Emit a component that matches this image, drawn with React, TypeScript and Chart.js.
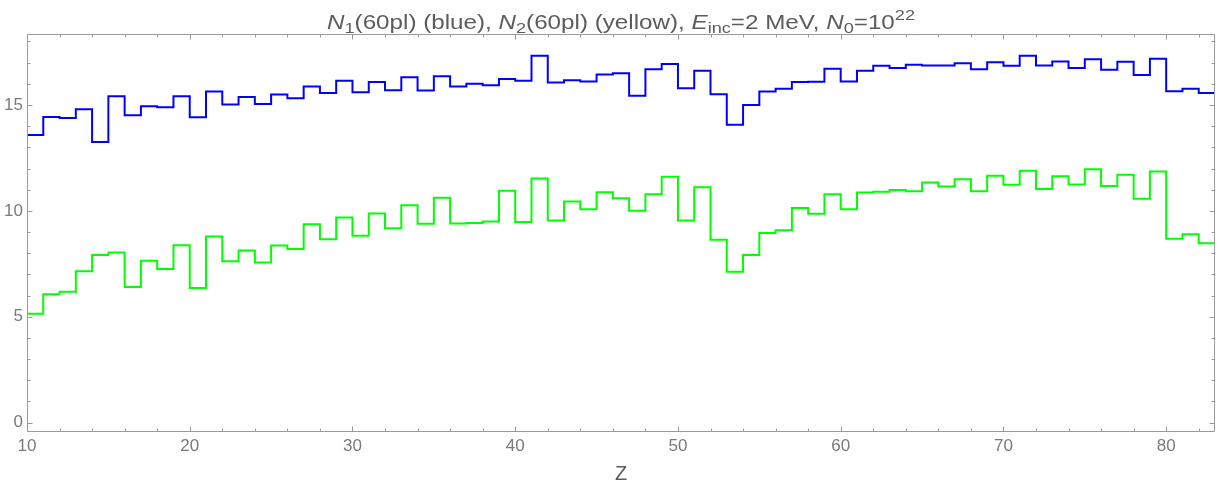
import React, { useEffect, useRef } from "react";
import { Chart, registerables } from "chart.js";

Chart.register(...registerables);

const zValues = [
  10, 11, 12, 13, 14, 15, 16, 17, 18, 19,
  20, 21, 22, 23, 24, 25, 26, 27, 28, 29,
  30, 31, 32, 33, 34, 35, 36, 37, 38, 39,
  40, 41, 42, 43, 44, 45, 46, 47, 48, 49,
  50, 51, 52, 53, 54, 55, 56, 57, 58, 59,
  60, 61, 62, 63, 64, 65, 66, 67, 68, 69,
  70, 71, 72, 73, 74, 75, 76, 77, 78, 79,
  80, 81, 82,
];

const n1Blue = [
  13.58, 14.43, 14.39, 14.8, 13.25, 15.41, 14.51, 14.94, 14.89, 15.41,
  14.42, 15.63, 15.02, 15.38, 15.04, 15.49, 15.32, 15.87, 15.56, 16.14,
  15.6, 16.08, 15.7, 16.31, 15.68, 16.36, 15.87, 16.0, 15.93, 16.22,
  16.14, 17.32, 16.06, 16.17, 16.11, 16.44, 16.5, 15.44, 16.69, 16.93,
  15.79, 16.61, 15.51, 14.06, 15.0, 15.63, 15.76, 16.08, 16.1, 16.71,
  16.11, 16.61, 16.85, 16.75, 16.9, 16.86, 16.86, 16.97, 16.69, 17.02,
  16.85, 17.32, 16.86, 17.05, 16.74, 17.16, 16.66, 17.04, 16.42, 17.18,
  15.65, 15.77, 15.56,
];

const n2Green = [
  5.14, 6.06, 6.18, 7.15, 7.92, 8.03, 6.4, 7.64, 7.26, 8.38,
  6.36, 8.79, 7.62, 8.13, 7.56, 8.36, 8.2, 9.37, 8.66, 9.69,
  8.82, 9.88, 9.18, 10.27, 9.39, 10.62, 9.4, 9.43, 9.5, 10.95,
  9.47, 11.53, 9.54, 10.44, 10.08, 10.88, 10.59, 10.0, 10.78, 11.61,
  9.54, 11.11, 8.64, 7.13, 7.92, 8.96, 9.09, 10.13, 9.86, 10.78,
  10.08, 10.87, 10.9, 10.99, 10.93, 11.34, 11.15, 11.49, 10.93, 11.66,
  11.23, 11.89, 11.03, 11.63, 11.25, 11.97, 11.17, 11.7, 10.57, 11.86,
  8.68, 8.9, 8.47,
];

const xTickLabels = [10, 20, 30, 40, 50, 60, 70, 80];
const yTickLabels = [0, 5, 10, 15];
const xMinorTicks = [12, 14, 16, 18, 22, 24, 26, 28, 32, 34, 36, 38, 42, 44, 46, 48, 52, 54, 56, 58, 62, 64, 66, 68, 72, 74, 76, 78, 82];
const yMinorTicks = [1, 2, 3, 4, 6, 7, 8, 9, 11, 12, 13, 14, 16, 17, 18];

const X_MIN = 10;
const X_MAX = 83;
const Y_MIN = -0.44;
const Y_MAX = 18.35;

type Seg = { t: string; it?: boolean; pos?: "sub" | "sup" };
const titleSegs: Seg[] = [
  { t: "N", it: true }, { t: "1", pos: "sub" }, { t: "(60pl) (blue), " },
  { t: "N", it: true }, { t: "2", pos: "sub" }, { t: "(60pl) (yellow), " },
  { t: "E", it: true }, { t: "inc", pos: "sub" }, { t: "=2 MeV, " },
  { t: "N", it: true }, { t: "0", pos: "sub" }, { t: "=10" }, { t: "22", pos: "sup" },
];
const xAxisTitle = "Z";

const FONT = '"Liberation Sans", Arial, sans-serif';
const TICK_COLOR = "#7a7a7a";
const FRAME_COLOR = "#9a9a9a";
const TITLE_COLOR = "#5c5c5c";

function stepData(values: number[]) {
  const pts = zValues.map((z, i) => ({ x: z, y: values[i] }));
  pts.push({ x: zValues[zValues.length - 1] + 1, y: values[values.length - 1] });
  return pts;
}

const decorPlugin = {
  id: "decor",
  afterDraw(chart: any) {
    const { ctx, chartArea: a, scales } = chart;
    const xs = scales.x;
    const ys = scales.y;
    ctx.save();
    // frame
    ctx.strokeStyle = FRAME_COLOR;
    ctx.lineWidth = 1;
    const L = Math.round(a.left) + 0.5;
    const R = Math.round(a.right) - 0.5;
    const T = Math.round(a.top) + 0.5;
    const B = Math.round(a.bottom) - 0.5;
    ctx.beginPath();
    ctx.rect(L, T, R - L, B - T);
    ctx.stroke();
    // ticks
    const xt = (v: number, len: number) => {
      const px = Math.round(xs.getPixelForValue(v)) + 0.5;
      ctx.moveTo(px, B); ctx.lineTo(px, B - len);
      ctx.moveTo(px, T); ctx.lineTo(px, T + len);
    };
    const yt = (v: number, len: number) => {
      const py = Math.round(ys.getPixelForValue(v)) + 0.5;
      ctx.moveTo(L, py); ctx.lineTo(L + len, py);
      ctx.moveTo(R, py); ctx.lineTo(R - len, py);
    };
    ctx.beginPath();
    xTickLabels.forEach((v) => xt(v, 5));
    xMinorTicks.forEach((v) => xt(v, 3));
    yTickLabels.forEach((v) => yt(v, 5));
    yMinorTicks.forEach((v) => yt(v, 3));
    ctx.stroke();

    // title
    const main = 20;
    const small = 15;
    const fontOf = (s: Seg) =>
      `${s.it ? "italic " : ""}${s.pos ? small : main}px ${FONT}`;
    let W = 0;
    titleSegs.forEach((s) => {
      ctx.font = fontOf(s);
      W += ctx.measureText(s.t).width;
    });
    const targetW = 588;
    const sx = targetW / W;
    const cx = (a.left + a.right) / 2;
    ctx.fillStyle = TITLE_COLOR;
    ctx.textBaseline = "alphabetic";
    ctx.textAlign = "left";
    ctx.save();
    ctx.translate(cx - targetW / 2, 29);
    ctx.scale(sx, 1);
    let x = 0;
    titleSegs.forEach((s) => {
      ctx.font = fontOf(s);
      const dy = s.pos === "sub" ? 4 : s.pos === "sup" ? -9 : 0;
      ctx.fillText(s.t, x, dy);
      x += ctx.measureText(s.t).width;
    });
    ctx.restore();

    // x-axis title
    ctx.font = `20px ${FONT}`;
    ctx.fillStyle = "#5a5a5a";
    ctx.textAlign = "center";
    ctx.textBaseline = "alphabetic";
    ctx.fillText(xAxisTitle, cx, 480);
    ctx.restore();
  },
};

export default function App() {
  const ref = useRef<HTMLCanvasElement | null>(null);
  useEffect(() => {
    document.body.style.margin = "0";
    const canvas = ref.current;
    if (!canvas) return;
    const chart = new Chart(canvas, {
      type: "line",
      data: {
        datasets: [
          {
            label: "N1",
            data: stepData(n1Blue),
            borderColor: "#0000ff",
            borderWidth: 2,
            stepped: "before",
            pointRadius: 0,
            fill: false,
          },
          {
            label: "N2",
            data: stepData(n2Green),
            borderColor: "#00ff00",
            borderWidth: 2,
            stepped: "before",
            pointRadius: 0,
            fill: false,
          },
        ],
      },
      options: {
        animation: false,
        responsive: true,
        maintainAspectRatio: false,
        layout: { padding: { top: 34, right: 6, left: 0, bottom: 0 } },
        plugins: {
          legend: { display: false },
          tooltip: { enabled: false },
          title: { display: false },
        },
        scales: {
          x: {
            type: "linear",
            min: X_MIN,
            max: X_MAX,
            grid: { display: false, drawTicks: false },
            border: { display: false },
            afterBuildTicks: (s: any) => {
              s.ticks = xTickLabels.map((v) => ({ value: v }));
            },
            afterFit: (s: any) => {
              s.height = 53;
            },
            ticks: {
              color: TICK_COLOR,
              font: { size: 17, family: FONT },
              padding: 4,
              autoSkip: false,
              maxRotation: 0,
              minRotation: 0,
            },
          },
          y: {
            type: "linear",
            min: Y_MIN,
            max: Y_MAX,
            grid: { display: false, drawTicks: false },
            border: { display: false },
            afterBuildTicks: (s: any) => {
              s.ticks = yTickLabels.map((v) => ({ value: v }));
            },
            afterFit: (s: any) => {
              s.width = 27;
            },
            ticks: {
              color: TICK_COLOR,
              font: { size: 17, family: FONT },
              padding: 4,
              autoSkip: false,
            },
          },
        },
      } as any,
      plugins: [decorPlugin],
    });
    return () => chart.destroy();
  }, []);
  return (
    <div style={{ width: 1221, height: 485, position: "relative", background: "#fff" }}>
      <canvas ref={ref} />
    </div>
  );
}
